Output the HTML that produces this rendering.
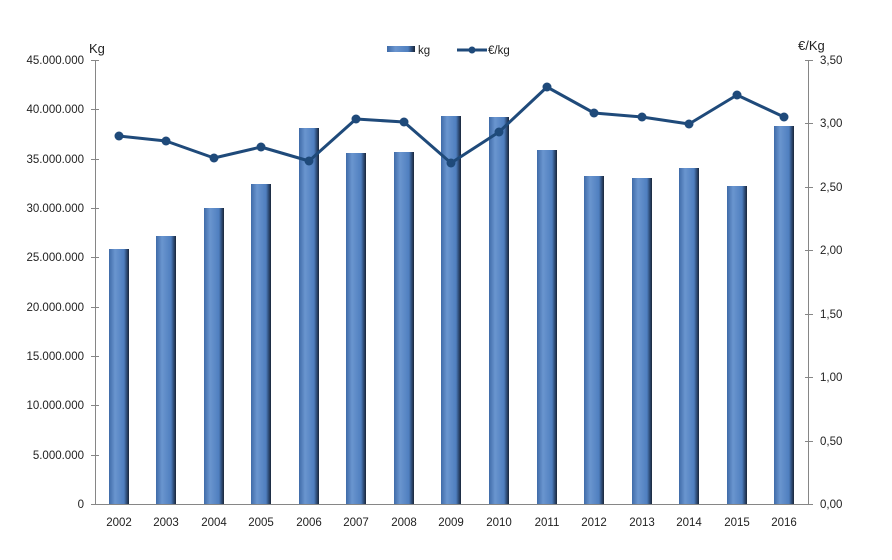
<!DOCTYPE html>
<html><head><meta charset="utf-8"><style>
body{margin:0;background:#fff}
svg{display:block;font-family:"Liberation Sans",sans-serif}
</style></head><body>
<svg width="892" height="560" viewBox="0 0 892 560" xmlns="http://www.w3.org/2000/svg">
<defs>
<linearGradient id="g" x1="0" x2="1" y1="0" y2="0">
<stop offset="0" stop-color="#3f6ba8"/>
<stop offset="0.3" stop-color="#6a95cf"/>
<stop offset="0.75" stop-color="#4f7fbf"/>
<stop offset="0.88" stop-color="#2f4d78"/>
<stop offset="1" stop-color="#1a2638"/>
</linearGradient>
</defs>
<g stroke="#868686" stroke-width="1">
<line x1="95.5" y1="60" x2="95.5" y2="504"/>
<line x1="808.5" y1="60" x2="808.5" y2="504"/>
<line x1="95" y1="504.5" x2="808" y2="504.5"/>
</g>
<g stroke="#868686">
<line x1="91" y1="60.5" x2="99" y2="60.5"/><line x1="91" y1="109.5" x2="99" y2="109.5"/><line x1="91" y1="159.5" x2="99" y2="159.5"/><line x1="91" y1="208.5" x2="99" y2="208.5"/><line x1="91" y1="257.5" x2="99" y2="257.5"/><line x1="91" y1="307.5" x2="99" y2="307.5"/><line x1="91" y1="356.5" x2="99" y2="356.5"/><line x1="91" y1="405.5" x2="99" y2="405.5"/><line x1="91" y1="455.5" x2="99" y2="455.5"/><line x1="91" y1="504.5" x2="99" y2="504.5"/>
<line x1="805" y1="60.5" x2="813" y2="60.5"/><line x1="805" y1="123.5" x2="813" y2="123.5"/><line x1="805" y1="187.5" x2="813" y2="187.5"/><line x1="805" y1="250.5" x2="813" y2="250.5"/><line x1="805" y1="314.5" x2="813" y2="314.5"/><line x1="805" y1="377.5" x2="813" y2="377.5"/><line x1="805" y1="441.5" x2="813" y2="441.5"/><line x1="805" y1="504.5" x2="813" y2="504.5"/>
</g>
<g font-size="11.5" fill="#222" text-anchor="end">
<text x="84" y="64">45.000.000</text><text x="84" y="113">40.000.000</text><text x="84" y="163">35.000.000</text><text x="84" y="212">30.000.000</text><text x="84" y="261">25.000.000</text><text x="84" y="311">20.000.000</text><text x="84" y="360">15.000.000</text><text x="84" y="409">10.000.000</text><text x="84" y="459">5.000.000</text><text x="84" y="508">0</text>
</g>
<g font-size="11.5" fill="#222">
<text x="820" y="64">3,50</text><text x="820" y="127">3,00</text><text x="820" y="191">2,50</text><text x="820" y="254">2,00</text><text x="820" y="318">1,50</text><text x="820" y="381">1,00</text><text x="820" y="445">0,50</text><text x="820" y="508">0,00</text>
<text x="89" y="53" font-size="13">Kg</text>
<text x="798" y="50" font-size="13">€/Kg</text>
</g>
<g fill="url(#g)">
<rect x="109" y="249" width="20" height="255"/>
<rect x="156" y="236" width="20" height="268"/>
<rect x="204" y="208" width="20" height="296"/>
<rect x="251" y="184" width="20" height="320"/>
<rect x="299" y="128" width="20" height="376"/>
<rect x="346" y="153" width="20" height="351"/>
<rect x="394" y="152" width="20" height="352"/>
<rect x="441" y="116" width="20" height="388"/>
<rect x="489" y="117" width="20" height="387"/>
<rect x="537" y="150" width="20" height="354"/>
<rect x="584" y="176" width="20" height="328"/>
<rect x="632" y="178" width="20" height="326"/>
<rect x="679" y="168" width="20" height="336"/>
<rect x="727" y="186" width="20" height="318"/>
<rect x="774" y="126" width="20" height="378"/>
</g>
<polyline fill="none" stroke="#1f4a7a" stroke-width="3" stroke-linejoin="round" points="119,136 166,141 214,158 261,147 309,161 356,119 404,122 451,163 499,132 547,87 594,113 642,117 689,124 737,95 784,117"/>
<g fill="#1f4a7a">
<circle cx="119" cy="136" r="4.5"/><circle cx="166" cy="141" r="4.5"/><circle cx="214" cy="158" r="4.5"/><circle cx="261" cy="147" r="4.5"/><circle cx="309" cy="161" r="4.5"/><circle cx="356" cy="119" r="4.5"/><circle cx="404" cy="122" r="4.5"/><circle cx="451" cy="163" r="4.5"/><circle cx="499" cy="132" r="4.5"/><circle cx="547" cy="87" r="4.5"/><circle cx="594" cy="113" r="4.5"/><circle cx="642" cy="117" r="4.5"/><circle cx="689" cy="124" r="4.5"/><circle cx="737" cy="95" r="4.5"/><circle cx="784" cy="117" r="4.5"/>
</g>
<g font-size="11.5" fill="#222" text-anchor="middle">
<text x="119" y="526">2002</text><text x="166" y="526">2003</text><text x="214" y="526">2004</text><text x="261" y="526">2005</text><text x="309" y="526">2006</text><text x="356" y="526">2007</text><text x="404" y="526">2008</text><text x="451" y="526">2009</text><text x="499" y="526">2010</text><text x="547" y="526">2011</text><text x="594" y="526">2012</text><text x="642" y="526">2013</text><text x="689" y="526">2014</text><text x="737" y="526">2015</text><text x="784" y="526">2016</text>
</g>
<rect x="387" y="46" width="28" height="6" fill="url(#g)"/>
<text x="418" y="54" font-size="11.5" fill="#222">kg</text>
<line x1="457" y1="50" x2="487" y2="50" stroke="#1f4a7a" stroke-width="3"/>
<circle cx="472" cy="50" r="3.5" fill="#1f4a7a"/>
<text x="488" y="54" font-size="11.5" fill="#222">€/kg</text>
</svg>
</body></html>
